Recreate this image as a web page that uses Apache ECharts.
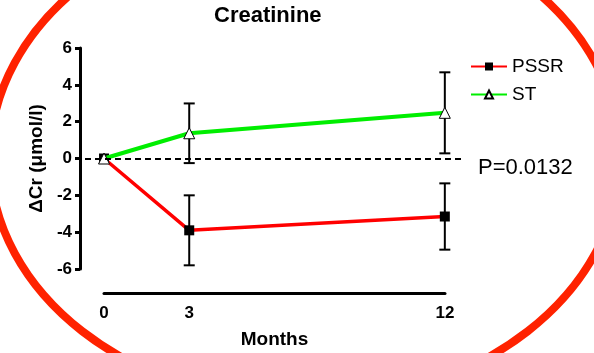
<!DOCTYPE html>
<html><head><meta charset="utf-8">
<script src="https://cdn.jsdelivr.net/npm/echarts@6/dist/echarts.min.js"></script>
<style>html,body{margin:0;padding:0;background:#fff}#c{width:594px;height:353px}</style>
</head><body><div id="c"></div>
<script>
const months = [0, 3, 12];
const xTickLabels = ['0', '3', '12'];
const pssrMean = [0, -3.9, -3.15];
const pssrErr = [0, 1.9, 1.8];
const stMean = [0, 1.37, 2.48];
const stErr = [0, 1.62, 2.2];
const yTicks = [-6, -4, -2, 0, 2, 4, 6];

const FONT = "'Liberation Sans', Arial, sans-serif";
const chart = echarts.init(document.getElementById('c'), null, {renderer: 'canvas'});

function pairs(ys) { return months.map((m, i) => [m, ys[i]]); }
function errData(ys, es) { return months.map((m, i) => [m, ys[i] - es[i], ys[i] + es[i]]); }

function errRender(params, api) {
  const x = api.value(0), lo = api.value(1), hi = api.value(2);
  if (hi - lo < 1e-9) return null;
  const pt = api.coord([x, hi]), pb = api.coord([x, lo]);
  const w = 5.5;
  const st = {stroke: '#000', lineWidth: 2};
  return {type: 'group', children: [
    {type: 'line', shape: {x1: pt[0], y1: pt[1], x2: pb[0], y2: pb[1]}, style: st},
    {type: 'line', shape: {x1: pt[0] - w, y1: pt[1], x2: pt[0] + w, y2: pt[1]}, style: st},
    {type: 'line', shape: {x1: pb[0] - w, y1: pb[1], x2: pb[0] + w, y2: pb[1]}, style: st}
  ]};
}

const option = {
  animation: false,
  textStyle: {fontFamily: FONT},
  title: {
    text: 'Creatinine', left: 209, top: 0,
    textStyle: {fontFamily: FONT, fontWeight: 'bold', fontSize: 22, color: '#000'}
  },
  legend: {
    orient: 'vertical', left: 465, top: 52, itemWidth: 36, itemHeight: 10, itemGap: 9,
    textStyle: {fontFamily: FONT, fontSize: 19, color: '#000'},
    data: ['PSSR', 'ST']
  },
  grid: [
    {left: 85, right: 131, top: 48, bottom: 84},
    {left: 104, right: 149, top: 283, height: 10}
  ],
  xAxis: [
    {gridIndex: 0, type: 'value', min: -0.67, max: 12.64, show: false},
    {gridIndex: 1, type: 'value', min: 0, max: 12, interval: 3, position: 'bottom',
     axisLine: {show: true, onZero: false, lineStyle: {color: '#000', width: 3}},
     axisTick: {show: false}, splitLine: {show: false},
     axisLabel: {margin: 12, color: '#000', fontWeight: 'bold', fontSize: 17, fontFamily: FONT,
       formatter: v => { const i = months.indexOf(v); return i >= 0 ? xTickLabels[i] : ''; }},
     name: 'Months', nameLocation: 'middle', nameGap: 37,
     nameTextStyle: {color: '#000', fontWeight: 'bold', fontSize: 19, fontFamily: FONT}}
  ],
  yAxis: [
    {gridIndex: 0, type: 'value', min: yTicks[0], max: yTicks[yTicks.length - 1], interval: 2, offset: 5,
     axisLine: {show: true, onZero: false, lineStyle: {color: '#000', width: 3}},
     axisTick: {show: true, length: 5, lineStyle: {color: '#000', width: 3}},
     splitLine: {show: false},
     axisLabel: {margin: 8, color: '#000', fontWeight: 'bold', fontSize: 17, fontFamily: FONT},
     name: 'ΔCr (μmol/l)', nameLocation: 'middle', nameGap: 29, nameRotate: 90,
     nameTextStyle: {color: '#000', fontWeight: 'bold', fontSize: 19, fontFamily: FONT}},
    {gridIndex: 1, type: 'value', show: false}
  ],
  series: [
    {type: 'custom', name: 'errPSSR', xAxisIndex: 0, yAxisIndex: 0, z: 1,
     renderItem: errRender, data: errData(pssrMean, pssrErr), encode: {x: 0, y: [1, 2]}, silent: true},
    {type: 'custom', name: 'errST', xAxisIndex: 0, yAxisIndex: 0, z: 1,
     renderItem: errRender, data: errData(stMean, stErr), encode: {x: 0, y: [1, 2]}, silent: true},
    {type: 'line', name: 'PSSR', xAxisIndex: 0, yAxisIndex: 0, z: 3,
     data: pairs(pssrMean), symbol: 'rect', symbolSize: 10,
     lineStyle: {color: '#ff0000', width: 3.5},
     itemStyle: {color: '#000', borderColor: '#000', borderWidth: 0},
     markLine: {silent: true, symbol: 'none', label: {show: false},
       lineStyle: {color: '#000', width: 2, type: [6, 4]},
       data: [{yAxis: 0}]}},
    {type: 'line', name: 'ST', xAxisIndex: 0, yAxisIndex: 0, z: 4,
     data: pairs(stMean), symbol: 'triangle', symbolSize: 11,
     lineStyle: {color: '#00ee00', width: 4},
     itemStyle: {color: '#fff', borderColor: '#000', borderWidth: 1}}
  ],
  graphic: [
    {type: 'text', left: 478, top: 157,
     style: {text: 'P=0.0132', fontFamily: FONT, fontSize: 22, fill: '#000'}},
    {type: 'ellipse', z: 100, silent: true,
     shape: {cx: 305, cy: 158, rx: 315, ry: 245},
     style: {fill: 'none', stroke: '#ff2200', lineWidth: 8}}
  ]
};
chart.setOption(option);
</script></body></html>
